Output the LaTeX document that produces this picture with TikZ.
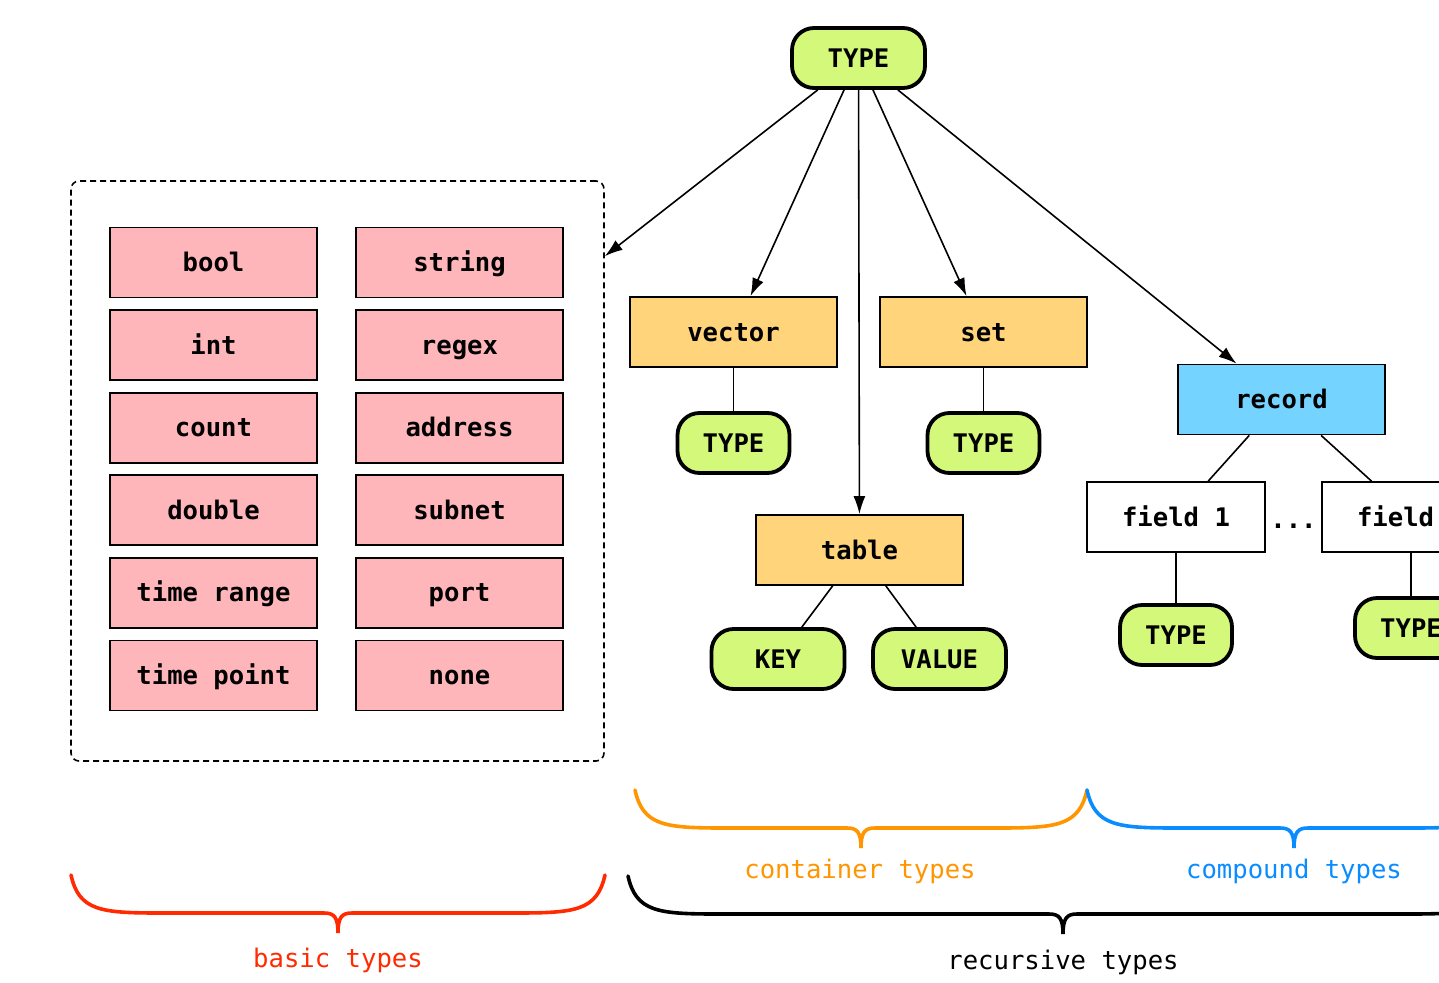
\documentclass[tikz,border=0pt]{standalone}
\usepackage{fontspec}
\setmonofont{DejaVu Sans Mono}
\usetikzlibrary{arrows.meta}
\definecolor{leafgreen}{HTML}{D4F97A}
\definecolor{basicpink}{HTML}{FFB6BA}
\definecolor{contorange}{HTML}{FFD47A}
\definecolor{recblue}{HTML}{75D4FF}
\definecolor{bracered}{HTML}{FF2A00}
\definecolor{braceorange}{HTML}{FF9500}
\definecolor{braceblue}{HTML}{0A8CFF}
\newcommand\typebrace[4]{%
  \pgfmathsetmacro\bm{(#2+#3)/2}
  \draw[#1, line width=3.6pt, line cap=round]
    (#2,#4) .. controls +(8,36) and +(-60,0) .. ++(90,38)
    -- ({\bm-14},{#4+38}) .. controls +(10,0) and +(0,-16) .. ({\bm},{#4+58})
    .. controls +(0,-16) and +(-10,0) .. ({\bm+14},{#4+38})
    -- ({#3-90},{#4+38}) .. controls +(60,0) and +(-8,36) .. (#3,#4);
}
\tikzset{
  lbl/.style={font=\fontsize{25.6}{30}\selectfont\ttfamily},
  box/.style={font=\fontsize{25.6}{30}\selectfont\ttfamily\bfseries, draw, line width=1.8pt,
    minimum width=207pt, minimum height=70pt, inner sep=0pt, text height=21pt, text depth=3pt},
  basic/.style={box, fill=basicpink},
  container/.style={box, fill=contorange},
  leaf/.style={box, fill=leafgreen, line width=3.8pt, rounded corners=22pt,
    minimum width=112pt, minimum height=60pt},
  arr/.style={-{Latex[length=18pt,width=12pt]}, line width=1.6pt},
  link/.style={line width=1.6pt}
}
\begin{document}
\begin{tikzpicture}[x=1pt,y=-1pt]
  \useasboundingbox (0,0) rectangle (1439,982);
  \clip (0,0) rectangle (1439,982);
  \node[draw, dash pattern=on 6pt off 4pt, line width=1.6pt, rounded corners=8pt,
    minimum width=533pt, minimum height=580pt] (basicbox) at (337.5,471) {};
  \foreach \l/\r [count=\i] in {bool/string, int/regex, count/address, double/subnet, time range/port, time point/none} {
    \node[basic] (bl\i) at (213.5,{262.5+(\i-1)*82.6}) {\l};
    \node[basic] (br\i) at (459.5,{262.5+(\i-1)*82.6}) {\r};
  }
  \node[leaf, minimum width=133pt] (top) at (858.5,58) {TYPE};
  \node[container] (vector) at (733.5,332) {vector};
  \node[container] (set) at (983.5,332) {set};
  \node[container] (table) at (859.5,550) {table};
  \node[box, fill=recblue] (record) at (1281.5,399.5) {record};
  \node[box, minimum width=178pt] (field1) at (1176,517) {field 1};
  \node[box, minimum width=178pt] (fieldn) at (1411,517) {field n};
  \node[box, draw=none, minimum width=0pt] (dots) at (1293.5,519) {...};
  \node[leaf] (vtype) at (733.5,443) {TYPE};
  \node[leaf] (stype) at (983.5,443) {TYPE};
  \node[leaf, minimum width=133pt] (key) at (778,659) {KEY};
  \node[leaf, minimum width=133pt] (value) at (939.5,659) {VALUE};
  \node[leaf] (f1type) at (1176,635) {TYPE};
  \node[leaf] (fntype) at (1411,628) {TYPE};
  \draw[arr] (top) -- ([yshift=-76pt]basicbox.north east);
  \draw[arr] (top) -- ([xshift=17pt]vector.north);
  \draw[arr] (top) -- (table);
  \draw[arr] (top) -- ([xshift=-17pt]set.north);
  \draw[arr] (top) -- ([xshift=-45pt]record.north);
  \draw[link] (vector) -- (vtype);
  \draw[link] (set) -- (stype);
  \draw[link] (table) -- (key);
  \draw[link] (table) -- (value);
  \draw[link] (record) -- (field1);
  \draw[link] (record) -- (fieldn);
  \draw[link] (field1) -- (f1type);
  \draw[link] (fieldn) -- (fntype);
  \typebrace{bracered}{71}{605}{875}
  \typebrace{braceorange}{635}{1087}{790}
  \typebrace{braceblue}{1087}{1501}{790}
  \typebrace{black}{628}{1498}{876}
  \node[lbl, text=bracered] (basiclbl) at (338,960) {basic types};
  \node[lbl, text=braceorange] (contlbl) at (860,871) {container types};
  \node[lbl, text=braceblue] (complbl) at (1294,871) {compound types};
  \node[lbl] (reclbl) at (1063,962) {recursive types};
\end{tikzpicture}
\end{document}
